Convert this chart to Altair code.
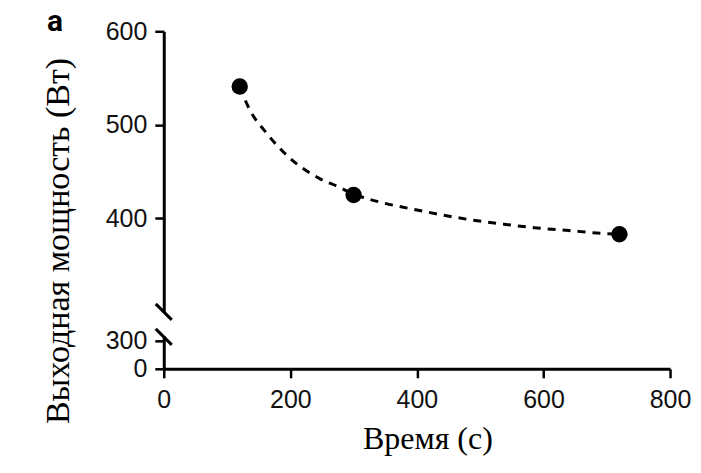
import altair as alt
import pandas as pd

# measured points
time_s = [120, 300, 720]
power_w = [541, 425, 383]

# dashed fitted curve
curve_t = [120, 133, 165, 200, 245, 275, 300, 350, 400, 445, 480, 535, 585, 640, 690, 720]
curve_p = [541, 520, 489, 464, 443, 434, 426, 416, 409, 403, 399, 394, 390, 387, 384, 383]

x_ticks = [0, 200, 400, 600, 800]
upper_ticks = [400, 500, 600]
lower_ticks = [0, 300]

pts = pd.DataFrame({"t": time_s, "p": power_w})
curve = pd.DataFrame({"t": curve_t, "p": curve_p})
one = pd.DataFrame({"k": [0]})

W = 507
H_UP = 281
H_LO = 33
LABEL_FONT = "Liberation Sans"
SERIF = "Liberation Serif"

axis_common = dict(
    domainColor="black", domainWidth=3, tickColor="black", tickWidth=2.5,
    labelFont=LABEL_FONT, labelFontSize=25, labelColor="#111",
    grid=False, labelFlush=False,
)

xs = alt.Scale(domain=[0, 800], nice=False)
ys_up = alt.Scale(domain=[300, 600], nice=False, zero=False)
ys_lo = alt.Scale(domain=[0, 353], nice=False)

line = alt.Chart(curve).mark_line(
    color="black", strokeWidth=3, strokeDash=[8, 7], interpolate="monotone"
).encode(
    x=alt.X("t:Q", scale=xs, axis=None),
    y=alt.Y("p:Q", scale=ys_up,
            axis=alt.Axis(values=upper_ticks, tickSize=9, labelPadding=8,
                          title=None, **axis_common)),
)

dots = alt.Chart(pts).mark_point(
    filled=True, color="black", size=270, opacity=1
).encode(x=alt.X("t:Q", scale=xs, axis=None), y=alt.Y("p:Q", scale=ys_up))

slash_up = alt.Chart(one).mark_rule(color="black", strokeWidth=3).encode(
    x=alt.value(-8), x2=alt.value(8), y=alt.value(H_UP - 8), y2=alt.value(H_UP + 8)
)

panel_label = alt.Chart(pd.DataFrame({"s": ["a"]})).mark_text(
    font="Roboto", fontSize=30, fontWeight="bold", align="left", baseline="middle"
).encode(text="s:N", x=alt.value(-117), y=alt.value(-9))

y_title = alt.Chart(pd.DataFrame({"s": ["Выходная мощность (Вт)"]})).mark_text(
    font=SERIF, fontSize=34, angle=270, align="center", baseline="middle"
).encode(text="s:N", x=alt.value(-105), y=alt.value(210))

upper = alt.layer(line, dots, slash_up, panel_label, y_title).properties(
    width=W, height=H_UP
)

lower_base = alt.Chart(pts).mark_point(opacity=0).encode(
    x=alt.X("t:Q", scale=xs,
            axis=alt.Axis(values=x_ticks, labelPadding=10, tickSize=9,
                          titleFont=SERIF, titleFontSize=32, titleFontWeight="normal",
                          titleColor="black", titlePadding=11, titleX=264,
                          titleAlign="center", title="Время (с)",
                          **axis_common)),
    y=alt.Y("p:Q", scale=ys_lo,
            axis=alt.Axis(values=lower_ticks, tickSize=9, labelPadding=8,
                          title=None, **axis_common)),
)

slash_lo = alt.Chart(one).mark_rule(color="black", strokeWidth=3).encode(
    x=alt.value(-8), x2=alt.value(8), y=alt.value(-7), y2=alt.value(9)
)

lower = alt.layer(lower_base, slash_lo).properties(width=W, height=H_LO)

chart = alt.vconcat(upper, lower, spacing=24, bounds="flush").properties(
    padding={"left": 41, "top": 7, "right": 10, "bottom": 5},
    background="white",
).configure_view(stroke=None)

chart.save("out.html", embed_options={"renderer": "svg", "actions": False})
